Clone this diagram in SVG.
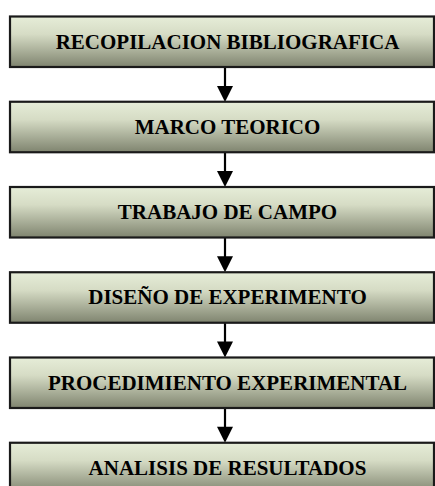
<svg xmlns="http://www.w3.org/2000/svg" width="435" height="486" viewBox="0 0 435 486">
<style>
.box{fill:url(#g);stroke:#1a1a1a;stroke-width:2.2}
.lbl{font-family:"Liberation Serif","Times New Roman",serif;font-weight:bold;font-size:21px;fill:#000;text-anchor:middle}
.ln{stroke:#000;stroke-width:2.2;fill:none}
.hd{fill:#000}
</style>
<defs>
<linearGradient id="g" x1="0" y1="0" x2="0" y2="1">
<stop offset="0" stop-color="#e6edd8"/>
<stop offset="0.35" stop-color="#d6dcc5"/>
<stop offset="1" stop-color="#7f846f"/>
</linearGradient>
</defs>
<rect width="435" height="486" fill="#fff"/>
<g id="connectors">
<line class="ln" x1="225" y1="67" x2="225" y2="87"/><polygon class="hd" points="217,86 233,86 225,102"/>
<line class="ln" x1="225" y1="152.25" x2="225" y2="172"/><polygon class="hd" points="217,171 233,171 225,187"/>
<line class="ln" x1="225" y1="237.5" x2="225" y2="257"/><polygon class="hd" points="217,256.25 233,256.25 225,272.25"/>
<line class="ln" x1="225" y1="322.75" x2="225" y2="342.5"/><polygon class="hd" points="217,341.5 233,341.5 225,357.5"/>
<line class="ln" x1="225" y1="408" x2="225" y2="428"/><polygon class="hd" points="217,426.75 233,426.75 225,442.75"/>
</g>
<g id="n1"><rect class="box" x="10" y="16.5" width="424" height="50.5"/><text class="lbl" x="227.5" y="48.5">RECOPILACION BIBLIOGRAFICA</text></g>
<g id="n2"><rect class="box" x="10" y="101.75" width="424" height="50.5"/><text class="lbl" x="227.5" y="133.75">MARCO TEORICO</text></g>
<g id="n3"><rect class="box" x="10" y="187" width="424" height="50.5"/><text class="lbl" x="227.5" y="219">TRABAJO DE CAMPO</text></g>
<g id="n4"><rect class="box" x="10" y="272.25" width="424" height="50.5"/><text class="lbl" x="227.5" y="304.25">DISEÑO DE EXPERIMENTO</text></g>
<g id="n5"><rect class="box" x="10" y="357.5" width="424" height="50.5"/><text class="lbl" x="227.5" y="389.5">PROCEDIMIENTO EXPERIMENTAL</text></g>
<g id="n6"><rect class="box" x="10" y="442.75" width="424" height="50.5"/><text class="lbl" x="227.5" y="474.75">ANALISIS DE RESULTADOS</text></g>
</svg>
